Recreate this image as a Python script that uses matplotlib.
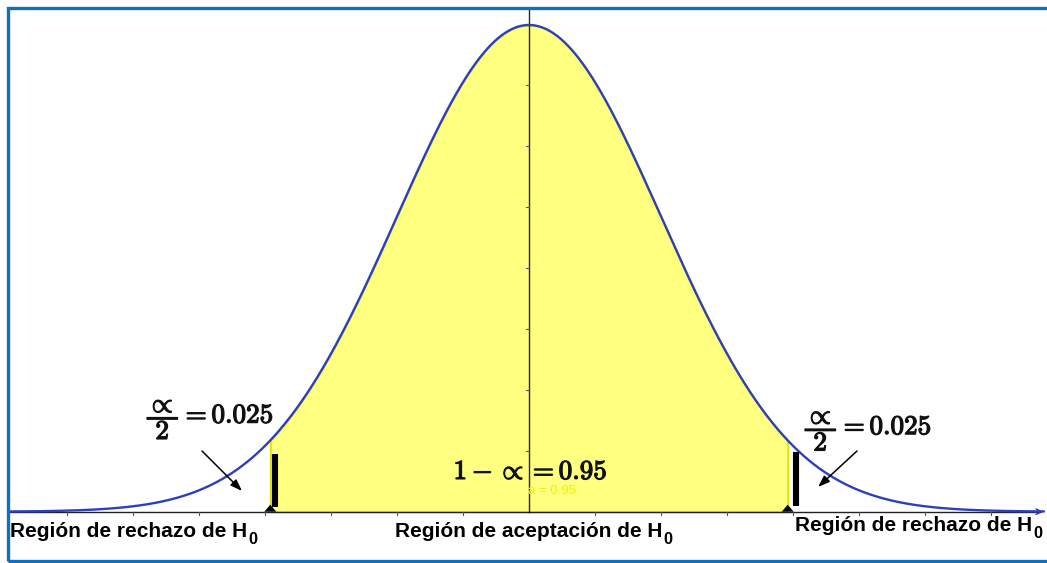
import numpy as np
import matplotlib
matplotlib.use("Agg")
import matplotlib.pyplot as plt
from matplotlib.patches import Rectangle, Polygon
import matplotlib.patheffects as pe

# ---- data ----
mu = 0.0
sigma = 1.0
alpha = 0.05
z_crit = 1.96
x_ticks = [-3.5, -3.0, -2.5, -2.0, -1.5, -1.0, -0.5, 0.5, 1.0, 1.5, 2.0, 2.5, 3.0, 3.5]
y_ticks = [0.05, 0.10, 0.15, 0.20, 0.25, 0.30, 0.35, 0.40]
label_left = "Región de rechazo de H"
label_center = "Región de aceptación de H"
label_right = "Región de rechazo de H"
label_sub = "0"
tail_text = r"$\dfrac{{\propto}}{2}=0.025$"
center_text = r"$1 - {\propto}=0.95$"
small_text = "a = 0.95"

W, H = 1047, 563
fig = plt.figure(figsize=(W / 100, H / 100), dpi=100)
ax = fig.add_axes([0, 0, 1, 1])
ax.set_axis_off()

# pixel geometry
cx, base = 529.0, 511.7
sx, sy = 132.0, 1220.0
ax.set_xlim(-cx / sx, (W - cx) / sx)
ax.set_ylim(-(H - base) / sy, base / sy)

def px(x):
    return (x - cx) / sx

def py(y):
    return (base - y) / sy

def pdf(x):
    return np.exp(-0.5 * ((x - mu) / sigma) ** 2) / (sigma * np.sqrt(2 * np.pi))

# frame
fig.patches.append(Rectangle((8, 2), W + 20, H - 10, transform=None,
                             fill=False, edgecolor="#1070c0", linewidth=2.4))

# shaded acceptance region
xf = np.linspace(-z_crit, z_crit, 400)
ax.fill_between(xf, 0, pdf(xf), facecolor="#ffff80", edgecolor="#e2e200",
                linewidth=1.4, zorder=1)

# axes
ax.plot([px(9), px(1040)], [0, 0], color="#222222", lw=1.0, zorder=2)
ax.annotate("", xy=(px(1046), 0), xytext=(px(1036), 0),
            arrowprops=dict(arrowstyle="->", color="#2a3aa0", lw=1.0), zorder=3)
ax.plot([0, 0], [0, py(8)], color="black", lw=1.0, zorder=2, alpha=0.85)
for t in x_ticks:
    ax.plot([t, t], [0, -3 / sy], color="#555555", lw=0.8, zorder=2)
for t in y_ticks:
    ax.plot([0, -3 / sx], [t, t], color="#555555", lw=0.8, zorder=2)

# curve
xc = np.linspace(px(10), px(1044), 1200)
ax.plot(xc, pdf(xc), color="#2b3fbf", lw=1.7, zorder=4, solid_capstyle="round")

# critical markers (triangles)
for zc in (-z_crit, z_crit):
    tri = Polygon([(zc - 6 / sx, 0), (zc + 6 / sx, 0), (zc, 7 / sy)],
                  closed=True, facecolor="black", edgecolor="none", zorder=5)
    ax.add_patch(tri)

# thick bars
ax.plot([-z_crit + 4.5 / sx] * 2, [py(454), py(507)], color="black", lw=4.4,
        solid_capstyle="butt", zorder=5)
ax.plot([z_crit + 8.0 / sx] * 2, [py(452), py(506)], color="black", lw=4.4,
        solid_capstyle="butt", zorder=5)

# arrows
arrow_kw = dict(arrowstyle="-|>,head_length=0.7,head_width=0.25", color="black",
                lw=1.1, shrinkA=0, shrinkB=0)
ax.annotate("", xy=(px(242), py(491)), xytext=(px(202), py(451)),
            arrowprops=arrow_kw, zorder=6)
ax.annotate("", xy=(px(818), py(487)), xytext=(px(857), py(451)),
            arrowprops=arrow_kw, zorder=6)

# formula texts (bold look via stroke)
bold = [pe.withStroke(linewidth=0.9, foreground="#111111")]
ax.text(px(147), py(419.5), tail_text, fontsize=19.5, math_fontfamily="cm",
        ha="left", va="center", color="#111111", zorder=7, path_effects=bold)
ax.text(px(805), py(431), tail_text, fontsize=19.5, math_fontfamily="cm",
        ha="left", va="center", color="#111111", zorder=7, path_effects=bold)
ax.text(px(530.5), py(479), center_text, fontsize=19.5, math_fontfamily="cm",
        ha="center", va="baseline", color="#111111", zorder=7, path_effects=bold)
ax.text(px(552.5), py(491), small_text, fontsize=9.5, family="Liberation Sans",
        ha="center", va="center", color="#f2f200", zorder=7)

# region labels with H subscript 0
fs = 15.0
lab_kw = dict(fontsize=fs, family="Liberation Sans", fontweight="bold",
              color="black", va="baseline", ha="left", zorder=7)
renderer = fig.canvas.get_renderer()

def region_label(text, left_px, baseline_px, center=False):
    t = ax.text(px(left_px), py(baseline_px), text, **lab_kw)
    ext = t.get_window_extent(renderer)
    sub = ax.text(0, 0, label_sub, **dict(lab_kw, fontsize=fs * 0.78))
    sext = sub.get_window_extent(renderer)
    if center:
        total = ext.width + 1 + sext.width
        shift = -total / 2.0
        t.set_position((px(left_px + shift), py(baseline_px)))
        right = left_px + shift + ext.width
    else:
        right = left_px + ext.width
    sub.set_position((px(right + 1), py(baseline_px + 7)))

region_label(label_left, 10, 537)
region_label(label_center, 534, 537, center=True)
region_label(label_right, 795, 531)

fig.savefig("out.png", dpi=100)
